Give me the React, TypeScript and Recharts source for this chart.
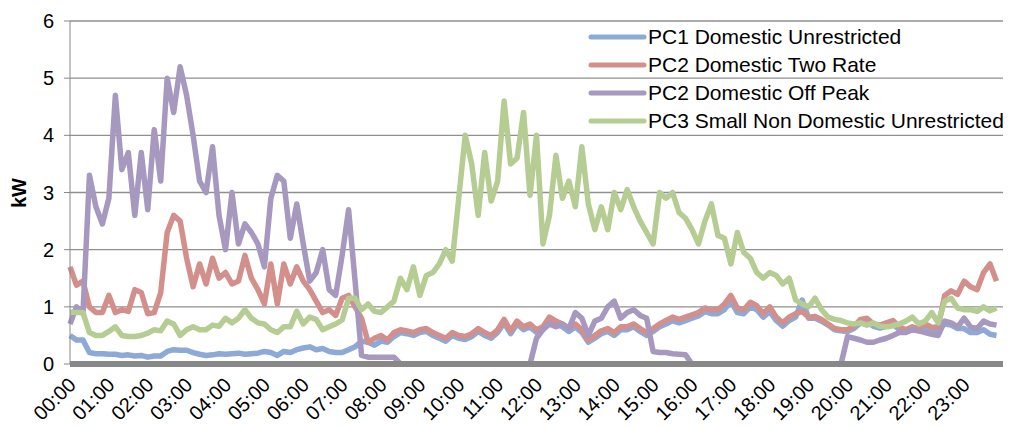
import React from "react";
import { LineChart, Line, XAxis, YAxis, CartesianGrid } from "recharts";

// Readings at 10-minute steps from 00:00 to 23:50 (kW)
const hourLabels = [
  "00:00", "01:00", "02:00", "03:00", "04:00", "05:00", "06:00", "07:00",
  "08:00", "09:00", "10:00", "11:00", "12:00", "13:00", "14:00", "15:00",
  "16:00", "17:00", "18:00", "19:00", "20:00", "21:00", "22:00", "23:00",
];
const stepMinutes = 10;

const pc1Unrestricted = [
  0.5, 0.42, 0.42, 0.2, 0.18, 0.18,
  0.17, 0.17, 0.15, 0.16, 0.14, 0.15,
  0.12, 0.14, 0.14, 0.22, 0.25, 0.24,
  0.24, 0.2, 0.17, 0.15, 0.16, 0.18,
  0.17, 0.18, 0.19, 0.17, 0.18, 0.19,
  0.22, 0.2, 0.15, 0.22, 0.2, 0.25,
  0.28, 0.3, 0.25, 0.27, 0.22, 0.2,
  0.2, 0.25, 0.3, 0.4, 0.38, 0.33,
  0.4, 0.38, 0.48, 0.55, 0.53, 0.5,
  0.55, 0.57, 0.5, 0.45, 0.4, 0.5,
  0.45, 0.43, 0.48, 0.57, 0.5, 0.45,
  0.55, 0.72, 0.53, 0.7, 0.6, 0.65,
  0.55, 0.6, 0.75, 0.7, 0.65, 0.57,
  0.65, 0.55, 0.38, 0.45, 0.53, 0.57,
  0.5, 0.6, 0.6, 0.65, 0.57, 0.5,
  0.57, 0.65, 0.7, 0.76, 0.72, 0.76,
  0.8, 0.84, 0.92, 0.88, 0.88, 0.95,
  1.1, 0.9, 0.88, 1.0, 0.95, 0.82,
  0.92, 0.76, 0.66, 0.76, 0.82, 1.12,
  0.8, 0.8, 0.75, 0.68, 0.6, 0.58,
  0.57, 0.62, 0.72, 0.74, 0.66, 0.63,
  0.66, 0.7, 0.6, 0.56, 0.6, 0.58,
  0.62, 0.58, 0.6, 0.7, 0.68, 0.62,
  0.62, 0.55, 0.55, 0.6, 0.52, 0.5,
];

const pc2TwoRate = [
  1.7, 1.38, 1.45, 1.0, 0.9, 0.9,
  1.2, 0.9, 0.95, 0.92, 1.3, 1.25,
  0.88, 0.9, 1.25, 2.3, 2.6, 2.5,
  1.85, 1.35, 1.75, 1.4, 1.85, 1.5,
  1.6, 1.4, 1.45, 1.9, 1.5, 1.3,
  1.05, 1.75, 1.05, 1.75, 1.4, 1.7,
  1.45, 1.3, 1.1, 0.9, 0.95, 0.85,
  1.15, 1.2, 1.0, 0.8, 0.38, 0.45,
  0.5, 0.42, 0.55, 0.6, 0.58, 0.55,
  0.6, 0.62, 0.55, 0.5, 0.45, 0.55,
  0.5, 0.48, 0.53, 0.62, 0.55, 0.5,
  0.6, 0.78, 0.58, 0.75, 0.65, 0.7,
  0.6, 0.65, 0.82, 0.75, 0.7, 0.62,
  0.7, 0.6, 0.42, 0.5, 0.58, 0.62,
  0.55, 0.65, 0.65, 0.7, 0.62, 0.55,
  0.62, 0.7, 0.76, 0.82, 0.78, 0.82,
  0.86, 0.9, 0.98, 0.95, 0.95, 1.05,
  1.2, 0.98, 0.95, 1.08, 1.02, 0.88,
  1.0, 0.82, 0.72, 0.82, 0.88, 0.92,
  0.82, 0.83, 0.78, 0.7, 0.62, 0.6,
  0.6, 0.66, 0.78, 0.8, 0.7, 0.68,
  0.72, 0.76, 0.65, 0.6, 0.65, 0.62,
  0.7, 0.64, 0.65, 1.2, 1.28, 1.22,
  1.45, 1.35, 1.3, 1.6, 1.75, 1.45,
];

const pc2OffPeak = [
  0.7, 1.0, 0.88, 3.3, 2.75, 2.45,
  2.9, 4.7, 3.4, 3.7, 2.6, 3.7,
  2.7, 4.1, 3.2, 5.0, 4.4, 5.2,
  4.7, 4.0, 3.2, 3.0, 3.8, 2.6,
  2.0, 3.0, 2.1, 2.45, 2.3, 2.1,
  1.7, 2.9, 3.3, 3.2, 2.2, 2.8,
  2.1, 1.45, 1.6, 2.0, 1.3, 1.2,
  1.9, 2.7, 1.45, 0.15, 0.12, 0.12,
  0.12, 0.12, 0.12, 0, 0, 0,
  0, 0, 0, 0, 0, 0,
  0, 0, 0, 0, 0, 0,
  0, 0, 0, 0, 0, 0,
  0.45, 0.6, 0.7, 0.65, 0.7, 0.62,
  0.9, 0.8, 0.5, 0.75, 0.8, 1.0,
  1.1, 0.8, 0.9, 0.95, 0.85, 0.8,
  0.22, 0.2, 0.2, 0.18, 0.17, 0.16,
  0, 0, 0, 0, 0, 0,
  0, 0, 0, 0, 0, 0,
  0, 0, 0, 0, 0, 0,
  0, 0, 0, 0, 0, 0,
  0.48, 0.45, 0.42, 0.38, 0.38, 0.42,
  0.45, 0.5, 0.55, 0.55, 0.6, 0.58,
  0.55, 0.52, 0.5, 0.75, 0.72, 0.65,
  0.8, 0.65, 0.62, 0.75, 0.7, 0.68,
];

const pc3SmallNonDomestic = [
  0.91, 0.9, 0.9, 0.55, 0.5, 0.5,
  0.57, 0.65, 0.5, 0.48, 0.48, 0.5,
  0.54, 0.6, 0.58, 0.75, 0.7, 0.5,
  0.6, 0.65, 0.6, 0.6, 0.68, 0.66,
  0.8, 0.72, 0.8, 0.95, 0.8, 0.72,
  0.7, 0.6, 0.55, 0.65, 0.65, 0.92,
  0.7, 0.82, 0.78, 0.6, 0.65, 0.7,
  0.77, 1.15, 1.15, 0.95, 1.05, 0.92,
  0.9, 1.0, 1.1, 1.5, 1.3, 1.7,
  1.2, 1.55, 1.6, 1.75, 2.0, 1.8,
  2.9, 4.0, 3.5, 2.6, 3.7, 2.85,
  3.2, 4.6, 3.5, 3.6, 4.4, 2.95,
  4.0, 2.1, 2.6, 3.65, 2.9, 3.2,
  2.75, 3.8, 2.8, 2.35, 2.75, 2.35,
  3.0, 2.7, 3.05, 2.75, 2.5, 2.3,
  2.1, 3.0, 2.9, 3.0, 2.65, 2.55,
  2.35, 2.1, 2.5, 2.8, 2.25, 2.2,
  1.75, 2.3, 1.95, 1.85, 1.6, 1.5,
  1.6, 1.55, 1.4, 1.5, 1.12, 1.05,
  1.0, 1.15, 0.95, 0.82, 0.78, 0.76,
  0.72, 0.7, 0.72, 0.68, 0.72, 0.66,
  0.65, 0.67, 0.7, 0.75, 0.82, 0.7,
  0.75, 0.9, 0.72, 1.1, 1.15, 0.98,
  0.95, 0.95, 0.92, 1.0, 0.93, 0.98,
];

const yTicks = [0, 1, 2, 3, 4, 5, 6];

const series = [
  { key: "pc1", name: "PC1 Domestic Unrestricted", color: "#8DA9D5", values: pc1Unrestricted },
  { key: "pc2", name: "PC2 Domestic Two Rate", color: "#D38F8C", values: pc2TwoRate },
  { key: "pc2op", name: "PC2 Domestic Off Peak", color: "#A698BE", values: pc2OffPeak },
  { key: "pc3", name: "PC3 Small Non Domestic Unrestricted", color: "#B5CD92", values: pc3SmallNonDomestic },
];

const data = pc1Unrestricted.map((_, i) => {
  const row: Record<string, number> = { t: i * stepMinutes };
  series.forEach((s) => {
    row[s.key] = s.values[i];
  });
  return row;
});

const hourTicks = hourLabels.map((_, i) => i * 60);

const FONT = "'Liberation Sans', Arial, sans-serif";

export default function App() {
  return (
    <div style={{ position: "relative", width: 1005, height: 418 }}>
      <LineChart width={1005} height={418} data={data} margin={{ top: 13, right: 10, bottom: 0, left: 0 }}>
        <CartesianGrid vertical={false} stroke="#8f8f8f" strokeWidth={1.3} />
        <XAxis
          dataKey="t"
          type="number"
          domain={[0, 1440]}
          ticks={hourTicks}
          tickFormatter={(v: number) => hourLabels[v / 60]}
          height={62}
          stroke="#888888"
          strokeWidth={6}
          tickLine={false}
          interval={0}
          tick={{ angle: -45, textAnchor: "end", fill: "#000", fontSize: 20, fontFamily: FONT, dx: -3, dy: 4 } as any}
        />
        <YAxis
          domain={[0, 6]}
          ticks={yTicks}
          width={62}
          stroke="#888888"
          tickSize={6}
          tickMargin={10}
          tick={{ fill: "#000", fontSize: 20, fontFamily: FONT }}
          label={{
            content: () => (
              <text
                x={11}
                y={185}
                transform="rotate(-90 11 185)"
                textAnchor="middle"
                dominantBaseline="central"
                fontFamily={FONT}
                fontWeight="bold"
                fontSize={20}
                fill="#000"
              >
                kW
              </text>
            ),
          }}
        />
        {series.map((s) => (
          <Line
            key={s.key}
            type="linear"
            dataKey={s.key}
            name={s.name}
            stroke={s.color}
            strokeWidth={5.5}
            strokeLinejoin="round"
            dot={false}
            activeDot={false}
            isAnimationActive={false}
          />
        ))}
      </LineChart>
      <div
        style={{
          position: "absolute",
          left: 580,
          top: 15,
          fontFamily: FONT,
          fontSize: 21,
          color: "#000",
        }}
      >
        {series.map((s) => (
          <div key={s.key} style={{ display: "flex", alignItems: "center", height: 28, whiteSpace: "nowrap" }}>
            <svg width={60} height={10}>
              <line x1={3} y1={5} x2={56} y2={5} stroke={s.color} strokeWidth={5} strokeLinecap="round" />
            </svg>
            <span>{s.name}</span>
          </div>
        ))}
      </div>
    </div>
  );
}
